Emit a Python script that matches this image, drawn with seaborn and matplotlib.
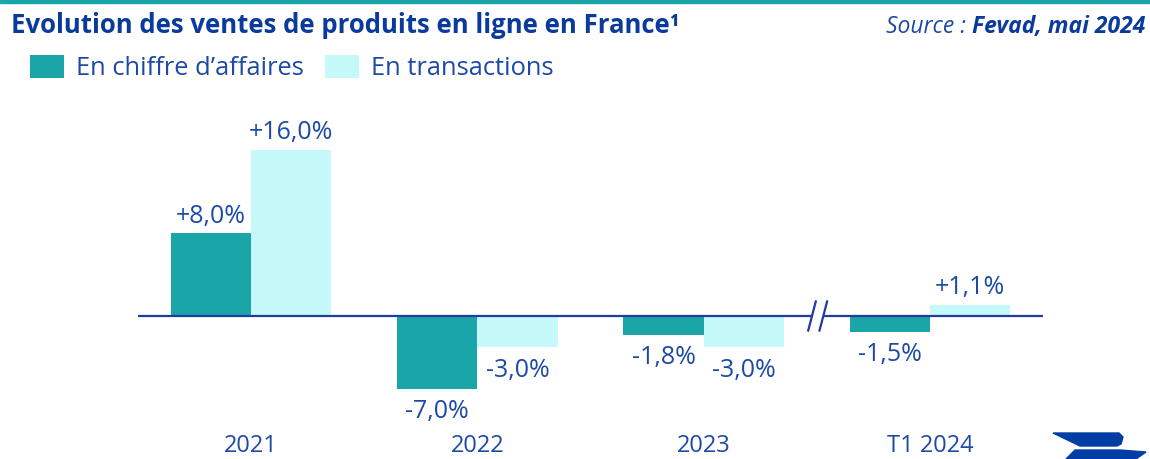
import matplotlib
matplotlib.use("Agg")
import matplotlib.pyplot as plt
from matplotlib.patches import Rectangle, Polygon
import pandas as pd
import seaborn as sns

# data
periods = ["2021", "2022", "2023", "T1 2024"]
series = ["En chiffre d’affaires", "En transactions"]
ca_values = [8.0, -7.0, -1.8, -1.5]
tx_values = [16.0, -3.0, -3.0, 1.1]

teal = "#1aa6a8"
light = "#c4f8f9"
text_blue = "#1d4aa6"
title_blue = "#0a3a9c"
line_blue = "#1f3c9e"

df = pd.DataFrame({
    "periode": periods + periods,
    "serie": [series[0]] * 4 + [series[1]] * 4,
    "valeur": ca_values + tx_values,
})

sns.set_theme(style="white")
plt.rcParams["font.family"] = ["Open Sans", "DejaVu Sans"]

W, H = 1150, 459
fig = plt.figure(figsize=(W / 100, H / 100), dpi=100)
ax = fig.add_axes([138 / W, 1 - 420 / H, 905 / W, 310 / H])

sns.barplot(data=df, x="periode", y="valeur", hue="serie", order=periods,
            hue_order=series, palette=[teal, light], width=0.71,
            saturation=1, linewidth=0, ax=ax)

ax.set_xlim(-0.5, 3.5)
ax.set_ylim(-10, 19.8)

# value labels, French decimal comma (a bit more room under negative bars)
for cont, vals in zip(ax.containers, [ca_values, tx_values]):
    labels = [f"{v:+.1f}%".replace(".", ",") for v in vals]
    pos = [l if v > 0 else "" for l, v in zip(labels, vals)]
    neg = [l if v < 0 else "" for l, v in zip(labels, vals)]
    ax.bar_label(cont, labels=pos, padding=3, fontsize=18, color=text_blue)
    ax.bar_label(cont, labels=neg, padding=7.5, fontsize=18, color=text_blue)

# zero line with axis break between 2023 and T1 2024
brk = 2.505
ax.hlines([0, 0], [-0.5, brk + 0.022], [brk - 0.022, 3.5], color=line_blue, lw=1.6, zorder=5)
for dx in (-0.026, 0.024):
    ax.plot([brk + dx - 0.018, brk + dx + 0.018], [-1.5, 1.5], color=line_blue,
            lw=1.6, zorder=5, solid_capstyle="butt")

ax.set_xlabel("")
ax.set_ylabel("")
ax.set_yticks([])
sns.despine(ax=ax, left=True, bottom=True)
ax.tick_params(axis="x", length=0, pad=10, labelsize=17, labelcolor=text_blue)

sns.move_legend(ax, "upper left", bbox_to_anchor=(30 / W, 1 - 55 / H),
                bbox_transform=fig.transFigure, ncol=2, frameon=False, title=None,
                fontsize=18.4, handlelength=1.33, handleheight=1.02,
                handletextpad=0.47, columnspacing=0.82, borderpad=0, borderaxespad=0)
for t in ax.get_legend().get_texts():
    t.set_color(text_blue)

# top teal rule
fig.patches.append(Rectangle((0, 1 - 3 / H), 1, 3 / H, transform=fig.transFigure,
                             color=teal, zorder=10))

fig.text(11 / W, 1 - 33 / H, "Evolution des ventes de produits en ligne en France¹",
         fontsize=18.5, fontweight="bold", color=title_blue, va="baseline", ha="left")

src_y = 1 - 33 / H
t_bold = fig.text(1145 / W, src_y, "Fevad, mai 2024", fontsize=16.5, fontweight="bold",
                  fontstyle="italic", color=title_blue, ha="right", va="baseline")
fig.canvas.draw()
bb = t_bold.get_window_extent()
fig.text(bb.x0 / W, src_y, "Source : ", fontsize=16.5, fontstyle="italic",
         color=text_blue, ha="right", va="baseline")


# small logo bottom right
def px(pts):
    return [(x / W, 1 - y / H) for x, y in pts]


fig.patches.append(Polygon(px([(1053, 433), (1119, 433), (1123, 437), (1121, 444),
                               (1117, 446), (1080, 446)]),
                           closed=True, transform=fig.transFigure, color="#003da5"))
fig.patches.append(Polygon(px([(1075, 450), (1120, 450), (1146, 452), (1136, 459),
                               (1066, 459)]),
                           closed=True, transform=fig.transFigure, color="#003da5"))

fig.savefig("out.png", dpi=100)
